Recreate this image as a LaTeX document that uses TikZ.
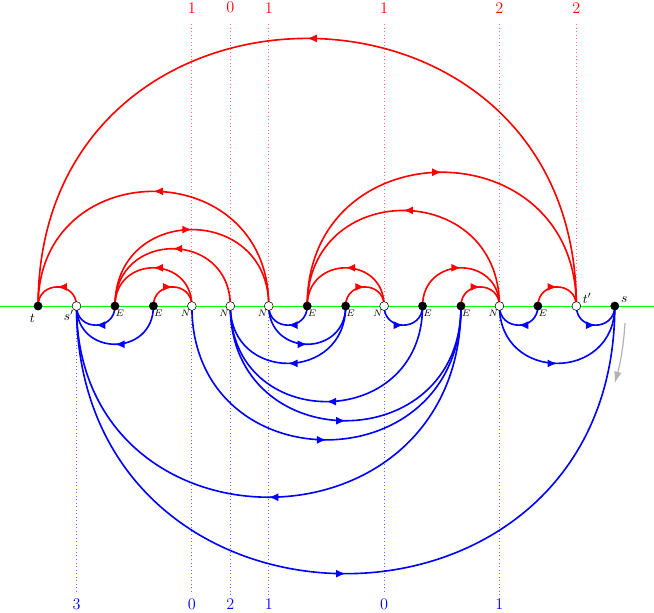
\documentclass[tikz,border=0pt]{standalone}
\usepackage{amsmath, amssymb}
\usepackage{tikz}
\usetikzlibrary{arrows.meta, decorations.markings, backgrounds}

\begin{document}
\begin{tikzpicture}[
        ptb/.style={circle, fill=black, inner sep=0pt, minimum size=2.3mm},
        ptw/.style={circle, draw=black, fill=white, inner sep=0pt, minimum size=2.3mm, line width=0.4pt},
        lbl/.style={font=\scriptsize, inner sep=0pt},
        num/.style={font=\large},
        midarrow/.style={postaction={decorate}, decoration={markings, mark=at position 0.5 with {\arrow{Latex[length=2.5mm,width=2.1mm]}}}},
        redarc/.style={red, line width=1.2pt, midarrow},
        bluearc/.style={blue, line width=1.2pt, midarrow},
        arcup/.style={out=90, in=90, looseness=1.7},
        arcdown/.style={out=-90, in=-90, looseness=1.7},
        reddot/.style={red!55, dotted, line width=0.6pt},
        bluedot/.style={blue!60, dotted, line width=0.6pt}
    ]
        \useasboundingbox (-0.99,-7.98) rectangle (16.02,7.96);
        \foreach \k [count=\i from 0] in {b,w,b,b,w,w,w,b,b,w,b,b,w,b,w,b}
            \node[pt\k] (p\i) at (\i,0) {};
        \node (lt) at ([shift={(-0.15,-0.32)}]p0) {$t$};
        \node (lsp) at ([shift={(-0.2,-0.25)}]p1) {$s'$};
        \node (ltp) at ([shift={(0.28,0.2)}]p14) {$t'$};
        \node (ls) at ([shift={(0.25,0.17)}]p15) {$s$};
        \foreach \i in {2,3,7,8,10,11,13}
            \node[lbl] (e\i) at ([shift={(0.13,-0.19)}]p\i) {$E$};
        \foreach \i in {4,5,6,9,12}
            \node[lbl] (n\i) at ([shift={(-0.16,-0.19)}]p\i) {$N$};
        \foreach \i/\v in {4/1,5/0,6/1,9/1,12/2,14/2}
            \node[num, text=red] (top\i) at (\i,7.76) {\v};
        \foreach \i/\v in {1/3,4/0,5/2,6/1,9/0,12/1}
            \node[num, text=blue] (bot\i) at (\i,-7.76) {\v};
        \begin{scope}[on background layer]
            \draw[green, line width=0.8pt] (-0.99,0) -- (16.02,0);
            \foreach \i in {4,5,6,9,12,14}
                \draw[reddot, shorten >=0.15cm] (p\i.center) -- (top\i);
            \foreach \i in {1,4,5,6,9,12}
                \draw[bluedot] (p\i.center) -- (bot\i);
            \foreach \a/\b in {14/0,1/0,6/0,2/6,5/2,4/2,3/4,7/14,12/7,9/7,8/9,10/12,11/12,13/14}
                \draw[redarc] (p\a.center) to[arcup] (p\b.center);
            \foreach \a/\b in {2/1,3/1,11/1,1/15,4/11,8/5,10/5,5/11,7/6,6/8,9/10,13/12,12/15,14/15}
                \draw[bluearc] (p\a.center) to[arcdown] (p\b.center);
        \end{scope}
        \draw[gray!60, line width=0.9pt, -{Latex[length=3mm,width=2mm]}] (8,0) ++(-3.5:7.28) arc[start angle=-3.5, end angle=-16, radius=7.28];
    \end{tikzpicture}
\end{document}
